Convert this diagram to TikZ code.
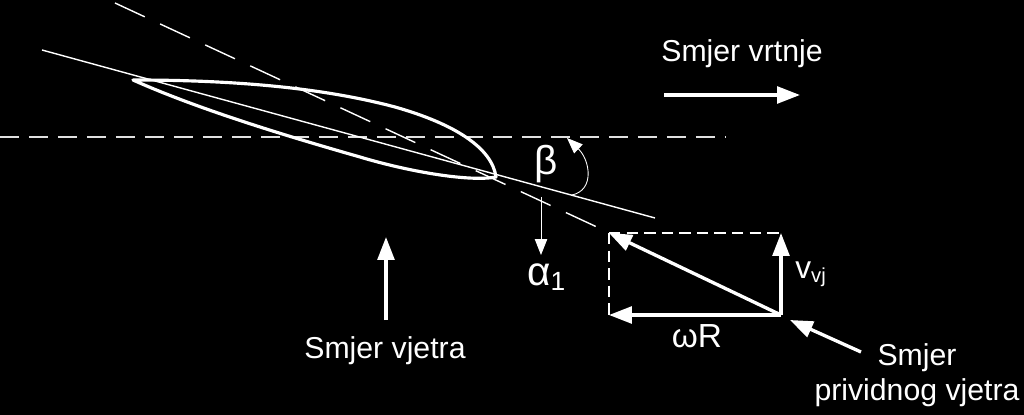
\documentclass[tikz,border=0pt]{standalone}
\usepackage{fontspec}
\setmainfont{Liberation Sans}
\usetikzlibrary{arrows.meta}
\tikzset{
  lbl/.style = {text = white, inner sep = 0pt, anchor = base, font = \fontsize{17.2}{20}\selectfont, align = center},
  biglbl/.style = {lbl, font = \fontsize{23}{26}\selectfont},
  thinline/.style = {draw = white, line width = 0.8pt},
  dashline/.style = {draw = white!88!black, line width = 0.7pt, dash pattern = on 11pt off 5.5pt},
  flowdash/.style = {draw = white, line width = 0.8pt, dash pattern = on 18.7pt off 9.6pt},
  boxdash/.style = {draw = white, line width = 0.9pt, dash pattern = on 6.5pt off 3.5pt},
  bigarrow/.style = {draw = white, line width = 1.9pt, -{Triangle[length = 13pt, width = 9.5pt]}},
  smallarrow/.style = {draw = white, line width = 0.5pt, -{Triangle[length = 9pt, width = 7pt]}}
}
\begin{document}
\begin{tikzpicture}[x = 0.02cm, y = -0.02cm]
  \fill[black] (0,0) rectangle (1024,415);
  \useasboundingbox (0,0) rectangle (1024,415);
  % reference lines
  \coordinate (horzA) at (0,137);
  \coordinate (horzB) at (725,137);
  \coordinate (chordA) at (42,50);
  \coordinate (chordB) at (655,218);
  \coordinate (flowA) at (115,3);
  \coordinate (flowB) at (612,234);
  \draw[dashline] (horzA) -- (horzB);
  \draw[flowdash] (flowA) -- (flowB);
  \draw[thinline] (chordA) -- (chordB);
  % blade
  \coordinate (tail) at (133,80);
  \coordinate (nose) at (496,177);
  \draw[white, line width = 1.8pt, line join = round] (tail)
    .. controls (230,80) and (320,87) .. (395,107)
    .. controls (455,124) and (492,148) .. (496,177)
    .. controls (470,182) and (410,172) .. (360,157)
    .. controls (290,137) and (200,110) .. (tail) -- cycle;
  % velocity triangle
  \coordinate (hub) at (781,315);
  \coordinate (topL) at (609,233);
  \coordinate (topR) at (781,233);
  \coordinate (botL) at (609,315);
  \draw[boxdash] (topL) -- (topR);
  \draw[boxdash] (topL) -- (botL);
  \draw[bigarrow] (hub) -- (topL);
  \draw[bigarrow] (hub) -- (botL);
  \draw[bigarrow] (hub) -- (topR);
  % direction arrows
  \coordinate (spinA) at (664,95);
  \coordinate (spinB) at (800,95);
  \draw[bigarrow] (spinA) -- (spinB);
  \coordinate (windA) at (386,320);
  \coordinate (windB) at (386,237);
  \draw[bigarrow] (windA) -- (windB);
  \coordinate (appA) at (861,352);
  \coordinate (appB) at (790,320);
  \draw[bigarrow] (appA) -- (appB);
  % angles
  \coordinate (alphaA) at (541,197);
  \coordinate (alphaB) at (541,255);
  \draw[smallarrow] (alphaA) -- (alphaB);
  \coordinate (betaA) at (572,195);
  \coordinate (betaB) at (567,138);
  \draw[smallarrow] (betaA) .. controls (595,190) and (590,160) .. (betaB);
  % labels
  \node[lbl] (spin) at (742,62) {Smjer vrtnje};
  \node[lbl] (wind) at (385,358) {Smjer vjetra};
  \node[lbl] (appTop) at (917,365) {Smjer};
  \node[lbl] (appBot) at (917,400) {prividnog vjetra};
  \node[biglbl] (beta) at (546,175) {β};
  \node[biglbl, anchor = base west] (alpha) at (527,285) {α\raisebox{-3.4pt}{\fontsize{15}{18}\selectfont 1}};
  \node[lbl, anchor = base west, font = \fontsize{18}{21}\selectfont] (vvj) at (795,278) {v\raisebox{-2.8pt}{\fontsize{11.5}{14}\selectfont vj}};
  \node[lbl, font = \fontsize{19}{22}\selectfont] (wR) at (697,347) {ωR};
\end{tikzpicture}
\end{document}
